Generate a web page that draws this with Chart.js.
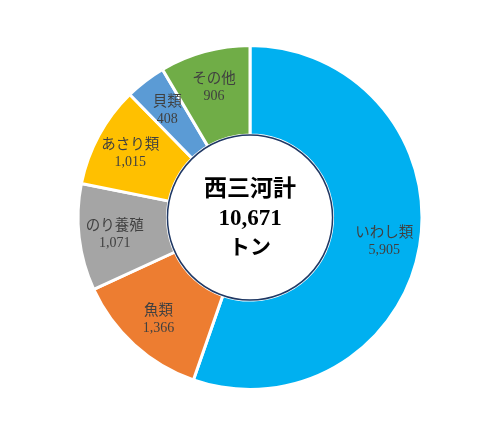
<!DOCTYPE html>
<html>
<head>
<meta charset="utf-8">
<script src="https://cdn.jsdelivr.net/npm/chart.js@4"></script>
<style>
  html, body { margin: 0; padding: 0; background: #ffffff; }
  #wrap { width: 500px; height: 436px; }
</style>
</head>
<body>
<div id="wrap"><canvas id="catchChart" width="500" height="436"></canvas></div>
<script>
// Categories and values (tonnes), clockwise from top
const categories = ['いわし類', '魚類', 'のり養殖', 'あさり類', '貝類', 'その他'];
const tonnes = [5905, 1366, 1071, 1015, 408, 906];
const sliceColors = ['#00B0F0', '#ED7D31', '#A5A5A5', '#FFC000', '#5B9BD5', '#70AD47'];
const centerLines = ['西三河計', '10,671', 'トン'];

const SANS = '"Noto Sans CJK JP", "Noto Sans", sans-serif';
const SERIF = '"Liberation Serif", "DejaVu Serif", serif';

// Draw the centre disc and the slice labels
const ringLabels = {
    id: 'ringLabels',
    afterDatasetsDraw(chart) {
        const ctx = chart.ctx;
        const meta = chart.getDatasetMeta(0);
        if (!meta.data.length) return;

        // centre disc with navy outline
        const first = meta.data[0].getProps(['x', 'y', 'innerRadius'], true);
        ctx.save();
        ctx.beginPath();
        ctx.arc(first.x, first.y, first.innerRadius, 0, Math.PI * 2);
        ctx.fillStyle = '#ffffff';
        ctx.fill();
        ctx.lineWidth = 1.5;
        ctx.strokeStyle = '#1F3864';
        ctx.stroke();

        // centre title
        ctx.fillStyle = '#000000';
        ctx.textAlign = 'center';
        ctx.textBaseline = 'middle';
        ctx.font = 'bold 23px ' + SANS;
        ctx.fillText(centerLines[0], first.x, first.y - 30);
        ctx.font = 'bold 23px ' + SERIF;
        ctx.fillText(centerLines[1], first.x, first.y + 2);
        ctx.font = 'bold 21px ' + SANS;
        ctx.fillText(centerLines[2], first.x, first.y + 29);

        // slice labels
        meta.data.forEach((arc, i) => {
            const p = arc.getProps(['x', 'y', 'startAngle', 'endAngle', 'innerRadius', 'outerRadius'], true);
            const mid = (p.startAngle + p.endAngle) / 2;
            const r = p.innerRadius + (p.outerRadius - p.innerRadius) * 0.6;
            const cx = p.x + Math.cos(mid) * r;
            const cy = p.y + Math.sin(mid) * r;
            ctx.fillStyle = '#404040';
            ctx.font = '14.5px ' + SANS;
            ctx.fillText(categories[i], cx, cy - 9);
            ctx.font = '14px ' + SERIF;
            ctx.fillText(tonnes[i].toLocaleString('en-US'), cx, cy + 10);
        });
        ctx.restore();
    }
};

const catchChart = new Chart(document.getElementById('catchChart'), {
    type: 'doughnut',
    data: {
        labels: categories,
        datasets: [{
            data: tonnes,
            backgroundColor: sliceColors,
            borderColor: '#ffffff',
            borderWidth: 3
        }]
    },
    options: {
        responsive: false,
        animation: false,
        cutout: '48%',
        layout: {
            padding: { top: 44, bottom: 45, left: 0, right: 0 }
        },
        plugins: {
            legend: { display: false },
            tooltip: { enabled: false }
        }
    },
    plugins: [ringLabels]
});
</script>
</body>
</html>
